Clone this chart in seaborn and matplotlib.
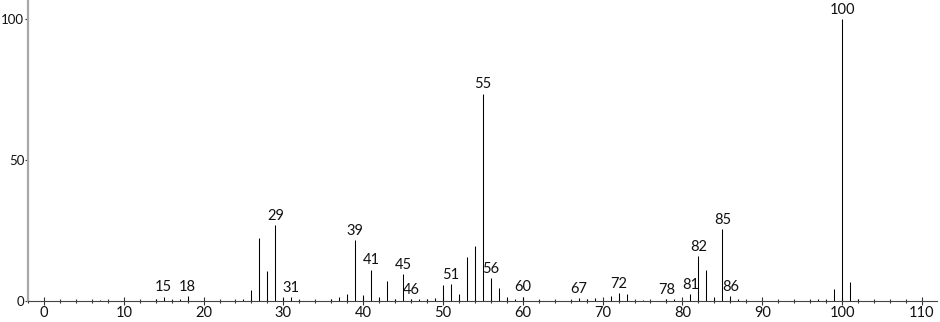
import matplotlib
matplotlib.use("Agg")
import matplotlib.pyplot as plt
import seaborn as sns
import pandas as pd
from matplotlib.ticker import MultipleLocator

# m/z values and relative intensities
mz = [7, 14, 15, 16, 17, 18, 25, 26, 27, 28, 29, 30, 31, 32, 36, 37, 38, 39, 40,
      41, 42, 43, 44, 45, 46, 47, 48, 49, 50, 51, 52, 53, 54, 55, 56, 57, 58,
      59, 60, 62, 66, 67, 68, 69, 71, 72, 73, 75, 78, 79, 81, 82, 83, 84, 85,
      86, 87, 96, 97, 98, 99, 100, 101, 102]
intensity = [0.3, 0.6, 1.4, 0.3, 0.5, 1.5, 0.6, 3.9, 22.2, 10.6, 26.8, 1.0, 1.3,
             0.3, 0.5, 1.2, 2.3, 21.5, 2.0, 11.0, 1.3, 7.0, 0.4, 9.3, 0.6, 0.4,
             0.4, 1.0, 5.6, 5.9, 2.2, 15.6, 19.3, 73.5, 8.0, 4.5, 1.2, 0.5, 1.4,
             0.3, 0.3, 0.8, 0.4, 0.9, 1.7, 2.6, 2.2, 0.3, 0.4, 0.5, 2.4, 15.7,
             10.8, 1.2, 25.5, 1.5, 0.4, 0.3, 0.4, 0.3, 4.2, 100.0, 6.5, 0.5]
labeled = [15, 18, 29, 31, 39, 41, 45, 46, 51, 55, 56, 60, 67, 72, 78, 81, 82,
           85, 86, 100]
x_ticks = list(range(0, 111, 10))
y_ticks = [0, 50, 100]

df = pd.DataFrame({"mz": mz, "intensity": intensity})

sns.set_theme(style="white")
plt.rcParams["font.family"] = ["Lato", "DejaVu Sans"]

fig = plt.figure(figsize=(9.4, 3.22), dpi=100)
ax = fig.add_axes([28 / 940, 21.5 / 322, 909 / 940, 300.5 / 322])

ax.vlines(df["mz"], 0, df["intensity"], color="black", linewidth=0.75)

lab = df[df["mz"].isin(labeled)]
for m, h in zip(lab["mz"], lab["intensity"]):
    ax.annotate(str(m), (m, h), xytext=(0, 1.5), textcoords="offset points",
                ha="center", va="bottom", fontsize=10.5, color="#111111")

ax.set_xlim(-2, 111.9)
ax.set_ylim(0, 106.7)
ax.set_xticks(x_ticks)
ax.xaxis.set_minor_locator(MultipleLocator(2))
ax.set_yticks(y_ticks)

for s in ["top", "right"]:
    ax.spines[s].set_visible(False)
ax.spines["left"].set_color("#a8a8a8")
ax.spines["left"].set_linewidth(1.6)
ax.spines["bottom"].set_color("#444444")
ax.spines["bottom"].set_linewidth(0.8)

ax.tick_params(axis="x", which="major", direction="inout", length=6, width=0.8,
               color="#333333", labelsize=10.5, pad=1, bottom=True)
ax.tick_params(axis="x", which="minor", direction="inout", length=3.5, width=0.8,
               color="#333333", bottom=True)
ax.tick_params(axis="y", which="major", direction="out", length=2.2, width=0.8,
               color="#333333", labelsize=9.5, pad=0.5, left=True)
for t in ax.get_xticklabels() + ax.get_yticklabels():
    t.set_color("#111111")

ax.set_xlabel("")
ax.set_ylabel("")
fig.savefig("out.png", dpi=100)
